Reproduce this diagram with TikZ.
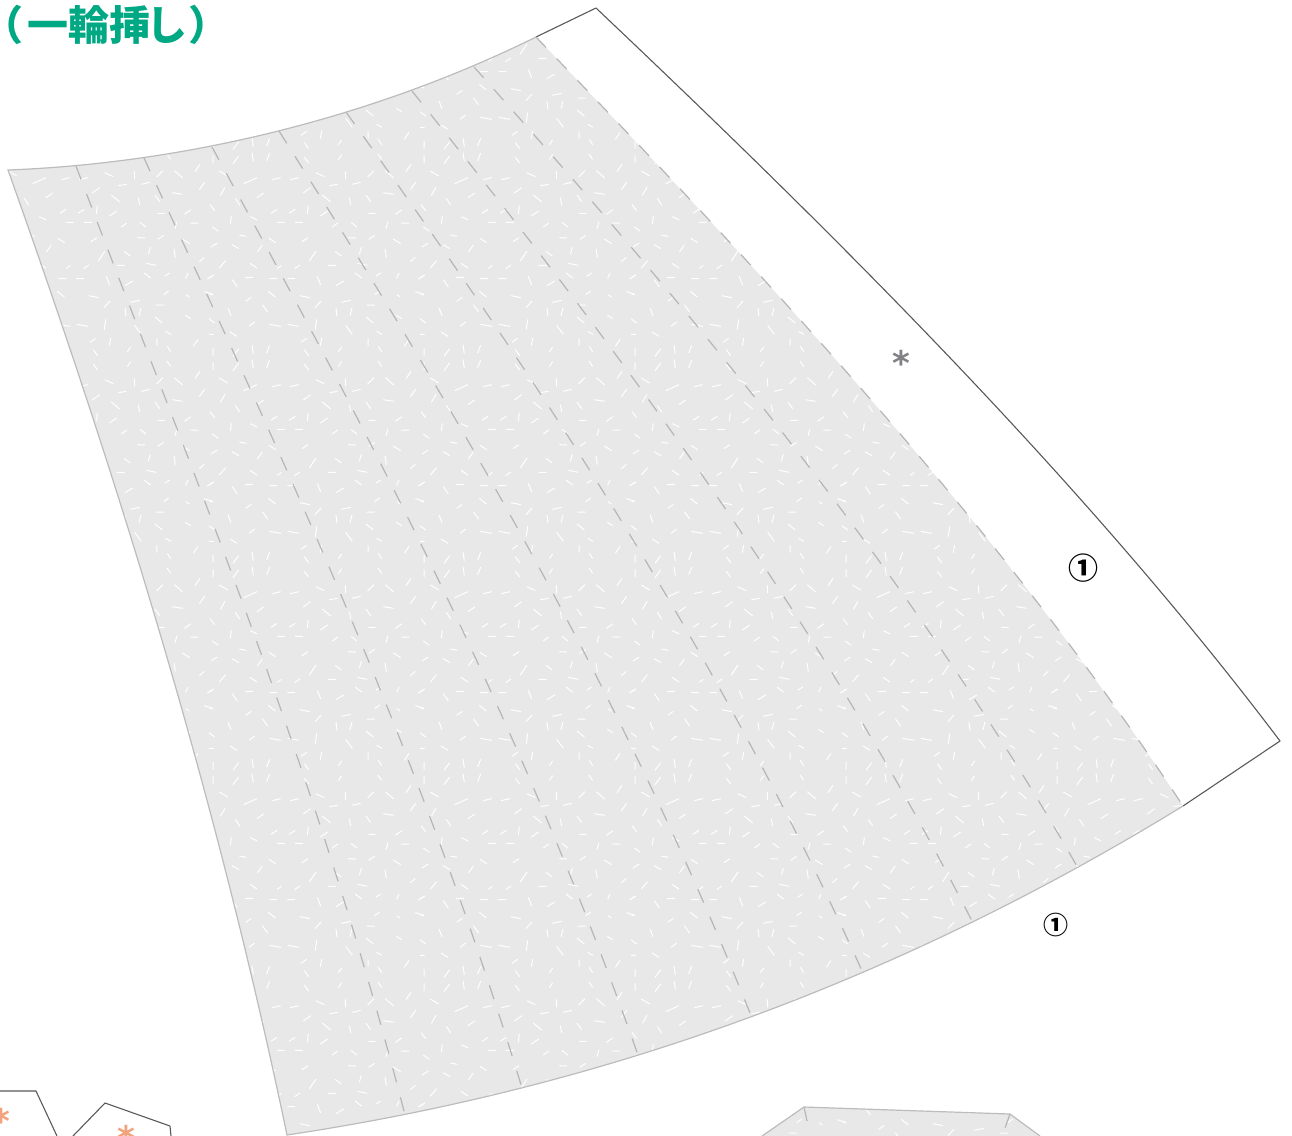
\documentclass[tikz,border=0pt]{standalone}
\usepackage{fontspec}
\setmainfont{Liberation Sans}
\newfontfamily\jpfont{Noto Sans CJK JP}
\newfontfamily\symfont{DejaVu Sans}
\definecolor{sheet}{HTML}{E8E8E8}
\definecolor{seam}{HTML}{BCBCBC}
\definecolor{foldgrey}{HTML}{B6B6B6}
\definecolor{cutline}{HTML}{595959}
\definecolor{titlegreen}{HTML}{00A984}
\definecolor{markgrey}{HTML}{808085}
\definecolor{markorange}{HTML}{F2A27C}
\tikzset{
  cutedge/.style={draw=cutline,line width=1.1pt,line join=round},
  sheetedge/.style={draw=seam,line width=1.2pt},
  foldline/.style={draw=foldgrey,line width=1.2pt,dash pattern=on 14.5pt off 15.4pt},
  fleck/.style={draw=white,line width=1pt},
}
\def\panelpath{(8,170) .. controls (190,163) and (376,116) .. (536,37)
  .. controls (766,277) and (1003,531) .. (1183,806)
  .. controls (883,990) and (587,1090) .. (287,1135)
  .. controls (215,790) and (115,470) .. (8,170) -- cycle}
\def\lowerpath{(762,1136) -- (804,1107) -- (1010,1114) -- (1040,1136) -- cycle}
% one repeat of the paper texture, in thirds of a pixel
\def\flecktile{(108,14)--(132,13) (181,17)--(204,17) (235,17)--(258,17) (70,20)--(85,42)
 (325,10)--(335,36) (381,38)--(404,24) (438,0)--(458,15) (500,10)--(515,0) (563,16)--(570,0)
 (628,18)--(647,6) (0,15)--(14,6) (0,62)--(12,66) (110,85)--(127,73) (178,55)--(199,72)
 (272,68)--(303,74) (497,65)--(512,54) (564,65)--(574,72) (619,56)--(645,64) (160,95)--(176,117)
 (318,104)--(336,84) (397,88)--(425,82) (473,96)--(497,96) (57,105)--(66,128) (381,105)--(384,130)
 (423,128)--(429,105) (0,137)--(17,150) (120,160)--(137,147) (181,154)--(216,160) (236,154)--(270,160)
 (319,170)--(323,139) (471,132)--(493,150) (562,127)--(578,137) (410,157)--(430,184) (0,184)--(14,184)
 (63,177)--(84,190) (503,175)--(519,184) (276,208)--(293,196) (477,196)--(477,218) (586,220)--(600,199)
 (338,195)--(334,218) (508,220)--(518,236) (12,225)--(12,248) (72,250)--(89,227) (129,216)--(133,242)
 (173,240)--(182,217) (286,230)--(299,248) (388,236)--(398,222) (12,268)--(12,291) (72,293)--(89,270)
 (129,260)--(133,286) (173,284)--(182,261) (286,274)--(299,291) (388,281)--(398,266) (507,264)--(518,280)
 (31,315)--(56,330) (591,317)--(606,295) (104,353)--(144,335) (190,341)--(215,335) (243,341)--(270,335)
 (320,320)--(346,332) (409,316)--(410,340) (476,333)--(495,314) (529,314)--(554,336) (361,359)--(386,355)
 (430,355)--(455,349) (34,388)--(48,364) (144,395)--(164,381) (283,381)--(305,365) (604,371)--(620,349)
 (523,380)--(554,385) (79,397)--(92,417) (340,387)--(365,408) (421,395)--(425,417) (471,387)--(485,407)
 (3,416)--(17,434) (186,442)--(204,430) (240,442)--(259,430) (295,444)--(298,419) (334,450)--(356,435)
 (478,442)--(500,442) (559,445)--(579,431) (64,474)--(67,451) (124,452)--(145,462) (204,469)--(227,469)
 (258,469)--(282,469) (426,469)--(444,483) (370,483)--(386,471) (531,488)--(537,467) (577,471)--(601,471)
 (10,483)--(28,496) (91,507)--(112,511) (180,517)--(200,530) (279,527)--(297,515) (418,515)--(441,516)
 (479,520)--(497,508) (6,543)--(25,531) (69,536)--(90,548) (145,558)--(160,537) (553,519)--(575,533)
 (528,548)--(532,575) (451,565)--(457,544) (301,585)--(321,555) (378,556)--(397,570) (604,587)--(619,574)
 (31,606)--(50,584) (123,592)--(144,606) (205,607)--(217,598) (257,608)--(273,597) (356,598)--(380,598)
 (445,592)--(475,598)}
\begin{document}
\begin{tikzpicture}[x=1pt,y=-1pt]
\useasboundingbox (0,0) rectangle (1292,1135);
% white strip cut line
\draw[cutedge] (536,37) -- (596,8) .. controls (821,221) and (1080,476) .. (1280,741) -- (1183,806);
% panel
\fill[sheet] \panelpath;
\fill[sheet] \lowerpath;
\begin{scope}
\clip \panelpath \lowerpath;
\foreach \ti in {-2,...,4} { \foreach \tj in {-3,...,3} {
  \pgfmathsetmacro\sx{420+211*\ti}
  \pgfmathsetmacro\sy{480+207*\tj}
  \draw[fleck,shift={(\sx pt,-\sy pt)},x=.33333pt,y=-.33333pt] \flecktile;
}}
\end{scope}
% fold lines
\foreach \s/\tx/\ty/\bx/\by in {1/76/166/405/1115,2/144/158/522/1088,3/212/147/638/1055,4/279/131/752/1018,5/346/112/863/973,6/412/91/972/921,7/474/67/1078/868,8/536/37/1183/806}{
  \pgfmathsetmacro\ax{(1-\s/8)*98+(\s/8)*766}
  \pgfmathsetmacro\ay{(1-\s/8)*470+(\s/8)*277}
  \pgfmathsetmacro\cx{(1-\s/8)*215+(\s/8)*1003}
  \pgfmathsetmacro\cy{(1-\s/8)*790+(\s/8)*531}
  \draw[foldline] (\tx,\ty) .. controls (\ax,\ay) and (\cx,\cy) .. (\bx,\by);
}
\draw[sheetedge] (536,37) .. controls (376,116) and (190,163) .. (8,170)
  .. controls (115,470) and (215,790) .. (287,1135)
  .. controls (587,1090) and (883,990) .. (1183,806);
% lower neighbour piece
\draw[sheetedge] (762,1136) -- (804,1107) -- (1010,1114) -- (1040,1136);
\draw[foldline] (804,1107) -- (807,1121);
\draw[foldline] (1010,1114) -- (1005,1128);
% left neighbour pieces
\draw[cutedge] (-2,1091) -- (36,1091) -- (57,1136);
\draw[cutedge] (73,1136) -- (105,1103) -- (170,1126) -- (171,1136);
\node[text=markorange,font=\symfont\bfseries\fontsize{34}{34}\selectfont,inner sep=0] (starA) at (1,1121) {*};
\node[text=markorange,font=\symfont\bfseries\fontsize{34}{34}\selectfont,inner sep=0] (starB) at (126,1138) {*};
% labels
\node[text=titlegreen,font=\jpfont\bfseries\fontsize{41}{41}\selectfont,anchor=base west,inner sep=0] (title) at (-18,40) {（\kern4pt一輪挿\kern-4pt し\kern1pt）};
\node[text=markgrey,font=\symfont\bfseries\fontsize{34}{34}\selectfont,inner sep=0] (star) at (901,363) {*};
\node[font=\jpfont\bfseries\fontsize{30}{30}\selectfont,inner sep=0] (circA) at (1083,568) {①};
\node[font=\jpfont\bfseries\fontsize{25}{25}\selectfont,inner sep=0] (circB) at (1056,925) {①};
\end{tikzpicture}
\end{document}
